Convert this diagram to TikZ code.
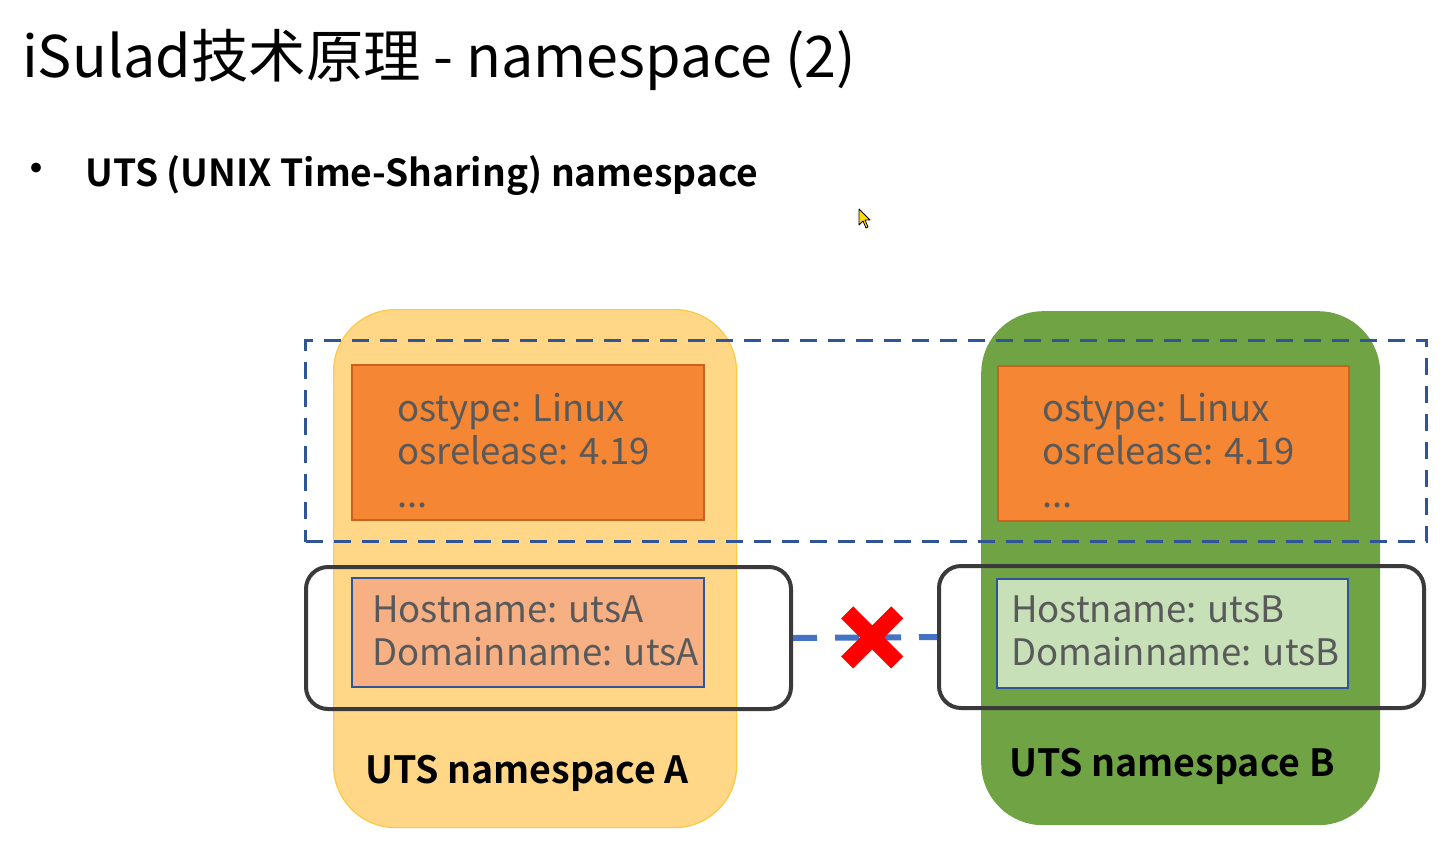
\documentclass[tikz,border=0pt]{standalone}
\usepackage{fontspec}
\usetikzlibrary{calc}
\newfontfamily\cjk[BoldFont={Noto Sans CJK SC Bold}]{Noto Sans CJK SC}
\definecolor{yfill}{HTML}{FFD787}
\definecolor{yedge}{HTML}{FCC845}
\definecolor{gfill}{HTML}{6FA344}
\definecolor{ofill}{HTML}{F58634}
\definecolor{oedge}{HTML}{C9621C}
\definecolor{sfill}{HTML}{F7B084}
\definecolor{lgfill}{HTML}{C7E0B8}
\definecolor{bedge}{HTML}{2F5597}
\definecolor{bline}{HTML}{4472C4}
\definecolor{dark}{HTML}{3A3A3A}
\definecolor{txt}{HTML}{595959}
\tikzset{
  box/.style={rectangle, inner sep=0pt, anchor=north west},
  container/.style={box, rounded corners=62pt},
  infobox/.style={box, fill=ofill, draw=oedge, line width=1.5pt},
  hostbox/.style={box, draw=bedge, line width=1.5pt},
  group/.style={box, draw=dark, line width=4pt, rounded corners=22pt},
  boxtext/.style={anchor=north west, inner sep=0pt, align=left, text=txt,
    font=\cjk\fontsize{36.5}{43}\selectfont},
  nslabel/.style={anchor=center, inner sep=0pt, font=\cjk\bfseries\fontsize{37.5}{40}\selectfont}
}
\begin{document}
\begin{tikzpicture}[x=1pt,y=-1pt]
\useasboundingbox (0,0) rectangle (1452,860);
\fill[white] (0,0) rectangle (1452,860);
% title
\node[anchor=base west, inner sep=0pt, font=\cjk\fontsize{57.4}{64}\selectfont] (title) at (22,77) {iSulad技术原理 - namespace (2)};
\node[anchor=center, inner sep=0pt, font=\cjk\fontsize{46}{46}\selectfont] (bullet) at (36,174) {•};
\node[anchor=base west, inner sep=0pt, font=\cjk\bfseries\fontsize{37.2}{40}\selectfont] (sub) at (85,186) {UTS (UNIX Time-Sharing) namespace};
% containers
\node[container, fill=yfill, draw=yedge, line width=1.2pt, minimum width=403pt, minimum height=518pt] (nsA) at (333,309) {};
\node[container, fill=gfill, minimum width=399pt, minimum height=514pt] (nsB) at (981,311) {};
% shared dashed region
\node[box, draw=bedge, line width=3.2pt, dash pattern=on 17pt off 11pt, minimum width=1121pt, minimum height=201pt] (shared) at (304,339) {};
% info boxes
\node[infobox, minimum width=352pt, minimum height=155pt] (infoA) at (351,364) {};
\node[infobox, minimum width=351pt, minimum height=155pt] (infoB) at (997,365) {};
\node[boxtext] (infoAt) at (397,393) {ostype: Linux\\osrelease: 4.19\\...};
\node[boxtext] (infoBt) at (1042,393) {ostype: Linux\\osrelease: 4.19\\...};
% host boxes
\node[hostbox, fill=sfill, minimum width=352pt, minimum height=109pt] (hostA) at (351,577) {};
\node[hostbox, fill=lgfill, minimum width=351pt, minimum height=109pt] (hostB) at (996,578) {};
\node[boxtext] (hostAt) at (372,596) {Hostname: utsA\\Domainname: utsA};
\node[boxtext] (hostBt) at (1011,596) {Hostname: utsB\\Domainname: utsB};
% group outlines
\node[group, minimum width=485pt, minimum height=142pt] (grpA) at (304,565) {};
\node[group, minimum width=485pt, minimum height=142pt] (grpB) at (937,564) {};
% broken link
\draw[bline, line width=6pt, dash pattern=on 24pt off 18pt] (grpA.east) -- (grpB.west);
\coordinate (mid) at ($(grpA.east)!0.55!(grpB.west)$);
\draw[red, line width=17pt] ([shift={(-25,-25)}]mid) -- ([shift={(25,25)}]mid);
\draw[red, line width=17pt] ([shift={(-25,25)}]mid) -- ([shift={(25,-25)}]mid);
% labels
\node[nslabel] (labA) at (527,773) {UTS namespace A};
\node[nslabel] (labB) at (1172,766) {UTS namespace B};
% cursor
\draw[black, fill=yellow!80!orange, line width=0.8pt, line join=round] (859,209) -- (859,225) -- (863,221) -- (866,228) -- (868,227) -- (865,220) -- (870,220) -- cycle;
\end{tikzpicture}
\end{document}
